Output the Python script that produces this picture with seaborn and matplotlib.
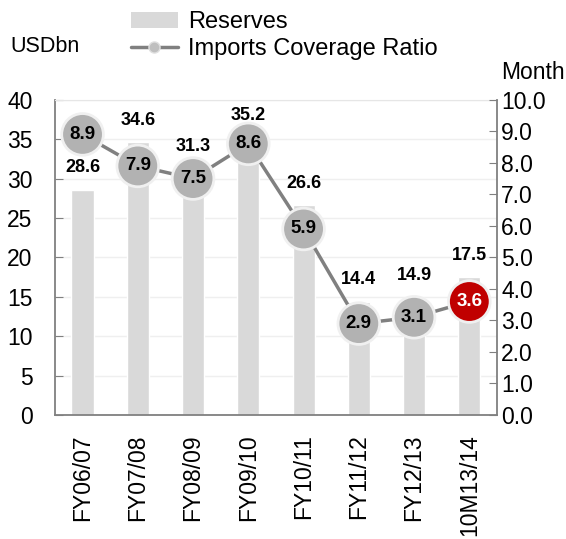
import numpy as np
import pandas as pd
import seaborn as sns
import matplotlib.pyplot as plt
from matplotlib.patches import Patch
from matplotlib.lines import Line2D

periods = ["FY06/07", "FY07/08", "FY08/09", "FY09/10", "FY10/11", "FY11/12", "FY12/13", "10M13/14"]
reserves = [28.6, 34.6, 31.3, 35.2, 26.6, 14.4, 14.9, 17.5]
coverage = [8.9, 7.9, 7.5, 8.6, 5.9, 2.9, 3.1, 3.6]

df = pd.DataFrame({"period": periods, "reserves": reserves, "coverage": coverage})

sns.set_style("white")
plt.rcParams["font.family"] = ["Liberation Sans", "DejaVu Sans"]
plt.rcParams["text.color"] = "black"
plt.rcParams["xtick.color"] = "black"
plt.rcParams["ytick.color"] = "black"

fig = plt.figure(figsize=(5.66, 5.39), dpi=100)
ax = fig.add_axes([0.097, 0.23, 0.781, 0.585])

# barras de reservas
sns.barplot(data=df, x="period", y="reserves", color="#d9d9d9", width=0.4,
            saturation=1, ax=ax, zorder=2)

ax.set_ylim(0, 40)
ax.set_yticks(np.arange(0, 41, 5))
ax.set_xlim(-0.5, len(periods) - 0.5)
ax.set_xlabel("")
ax.set_ylabel("")
ax.yaxis.grid(True, color="#efefef", lw=1, zorder=0)
ax.set_axisbelow(True)
ax.tick_params(axis="y", direction="in", length=6, color="#808080", labelsize=16.5, pad=16)
ax.set_xticks(np.arange(len(periods)))
ax.set_xticklabels(periods, rotation=90, fontsize=16.5)
ax.tick_params(axis="x", which="major", length=0, pad=14)
ax.set_xticks(np.arange(-0.5, len(periods), 1), minor=True)
ax.tick_params(axis="x", which="minor", direction="in", length=6, color="#808080")
for s in ["left", "bottom"]:
    ax.spines[s].set_color("#808080")
    ax.spines[s].set_linewidth(1.3)
ax.spines["top"].set_color("#e6e6e6")
ax.spines["right"].set_visible(False)

# linha de cobertura de importações
ax2 = ax.twinx()
sns.lineplot(x=np.arange(len(periods)), y=coverage, ax=ax2, color="#808080",
             lw=2.5, zorder=3)
colors = ["#b2b2b2"] * (len(periods) - 1) + ["#c00000"]
sns.scatterplot(x=np.arange(len(periods)), y=coverage, ax=ax2, s=900,
                color=colors, edgecolor="#f0f0f0", linewidth=2, zorder=4)
for i, v in enumerate(coverage):
    tc = "white" if i == len(periods) - 1 else "black"
    ax2.text(i, v, f"{v:.1f}", ha="center", va="center", fontsize=13.5,
             fontweight="bold", color=tc, zorder=6)

# rótulos das barras desenhados no eixo de cima, na escala das barras
for i, v in enumerate(reserves):
    ax2.text(i, v + 2.8, f"{v:.1f}", ha="center", va="center", fontsize=13,
             fontweight="bold", zorder=7, transform=ax.transData)

ax2.set_ylim(0, 10)
ax2.set_yticks(np.arange(0, 10.1, 1))
ax2.set_yticklabels([f"{t:.1f}" for t in np.arange(0, 10.1, 1)])
ax2.tick_params(axis="y", direction="in", length=6, color="#808080", labelsize=16.5, pad=3)
ax2.spines["right"].set_color("#808080")
ax2.spines["right"].set_linewidth(1.3)
for s in ["left", "top", "bottom"]:
    ax2.spines[s].set_visible(False)

fig.text(0.018, 0.913, "USDbn", fontsize=15.5, ha="left", va="center")
fig.text(0.997, 0.866, "Month", fontsize=16.5, ha="right", va="center")

handles = [Patch(facecolor="#d9d9d9", edgecolor="none"),
           Line2D([0], [0], color="#808080", lw=2.5, marker="o", markersize=8,
                  markerfacecolor="#bfbfbf", markeredgecolor="#e0e0e0")]
fig.legend(handles, ["Reserves", "Imports Coverage Ratio"], loc="upper left",
           bbox_to_anchor=(0.214, 0.997), frameon=False, fontsize=17,
           handlelength=2.0, handletextpad=0.45, labelspacing=0.22,
           borderaxespad=0)

fig.savefig("out.png", dpi=100)
